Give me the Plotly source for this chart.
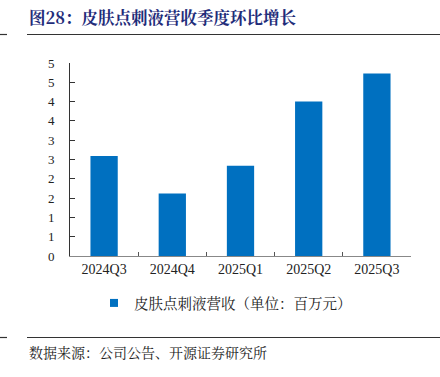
import plotly.graph_objects as go

categories = ["2024Q3", "2024Q4", "2025Q1", "2025Q2", "2025Q3"]
revenue = [2.59, 1.62, 2.34, 4.00, 4.73]
y_tickvals = [0, 0.5, 1, 1.5, 2, 2.5, 3, 3.5, 4, 4.5, 5]
y_ticktext = ["0", "1", "1", "2", "2", "3", "3", "4", "4", "5", "5"]
series_name = "皮肤点刺液营收（单位：百万元）"
title_text = "图28：皮肤点刺液营收季度环比增长"
source_text = "数据来源：公司公告、开源证券研究所"

W, H = 440, 377
L, R, T, B = 70, 29, 63, 121
PW, PH = W - L - R, H - T - B

def px(x):
    return (x - L) / PW

def py(y):
    return (H - B - y) / PH

BLUE = "#0070C0"
SERIF = "Liberation Serif, Times New Roman, serif"
CJK = "Noto Sans CJK SC"
CJK_SERIF = "Noto Serif CJK SC, Noto Sans CJK SC"

fig = go.Figure()
fig.add_trace(go.Bar(x=categories, y=revenue, marker=dict(color=BLUE, line=dict(width=0)),
                     showlegend=False))
fig.add_trace(go.Scatter(x=[None], y=[None], mode="markers", name=series_name,
                         marker=dict(symbol="square", size=8, color=BLUE)))

fig.update_layout(
    width=W, height=H,
    margin=dict(l=L, r=R, t=T, b=B, pad=0, autoexpand=False),
    paper_bgcolor="white", plot_bgcolor="white",
    bargap=0.6,
    showlegend=True,
    legend=dict(orientation="h", xref="container", yref="container",
                x=94 / W, xanchor="left", y=1 - 303 / H, yanchor="middle",
                font=dict(family=CJK_SERIF, size=14.5, color="#222"), itemwidth=30,
                bgcolor="rgba(0,0,0,0)"),
    xaxis=dict(showline=True, linecolor="#888888", linewidth=1, ticks="inside", ticklen=4,
               tickcolor="#555555", tickson="boundaries", showgrid=False,
               tickfont=dict(family=SERIF, size=14, color="#222")),
    yaxis=dict(range=[0, 5], tickvals=y_tickvals, ticktext=y_ticktext, showline=True,
               linecolor="#333333", linewidth=1, ticks="inside", ticklen=5, tickcolor="#333333",
               showgrid=False, zeroline=False, ticklabelstandoff=12,
               tickfont=dict(family=SERIF, size=13, color="#222")),
)

fig.add_annotation(text=f"<b>{title_text}</b>", xref="paper", yref="paper", x=px(27), y=py(17),
                   xanchor="left", yanchor="middle", showarrow=False,
                   font=dict(family=CJK_SERIF, size=16.5, color="#1F2D7A"))
fig.add_annotation(text=source_text, xref="paper", yref="paper", x=px(27), y=py(352),
                   xanchor="left", yanchor="middle", showarrow=False,
                   font=dict(family=CJK_SERIF, size=14, color="#222"))

for yy in (34.5, 337.5):
    fig.add_shape(type="line", xref="paper", yref="paper", x0=px(27), x1=px(440), y0=py(yy), y1=py(yy),
                  line=dict(color="#333333", width=1.2))
    fig.add_shape(type="line", xref="paper", yref="paper", x0=px(0), x1=px(7), y0=py(yy), y1=py(yy),
                  line=dict(color="#333333", width=1.2))

fig.write_html("out.html", config={"displayModeBar": False},
               post_script="document.body.style.margin='0';")
